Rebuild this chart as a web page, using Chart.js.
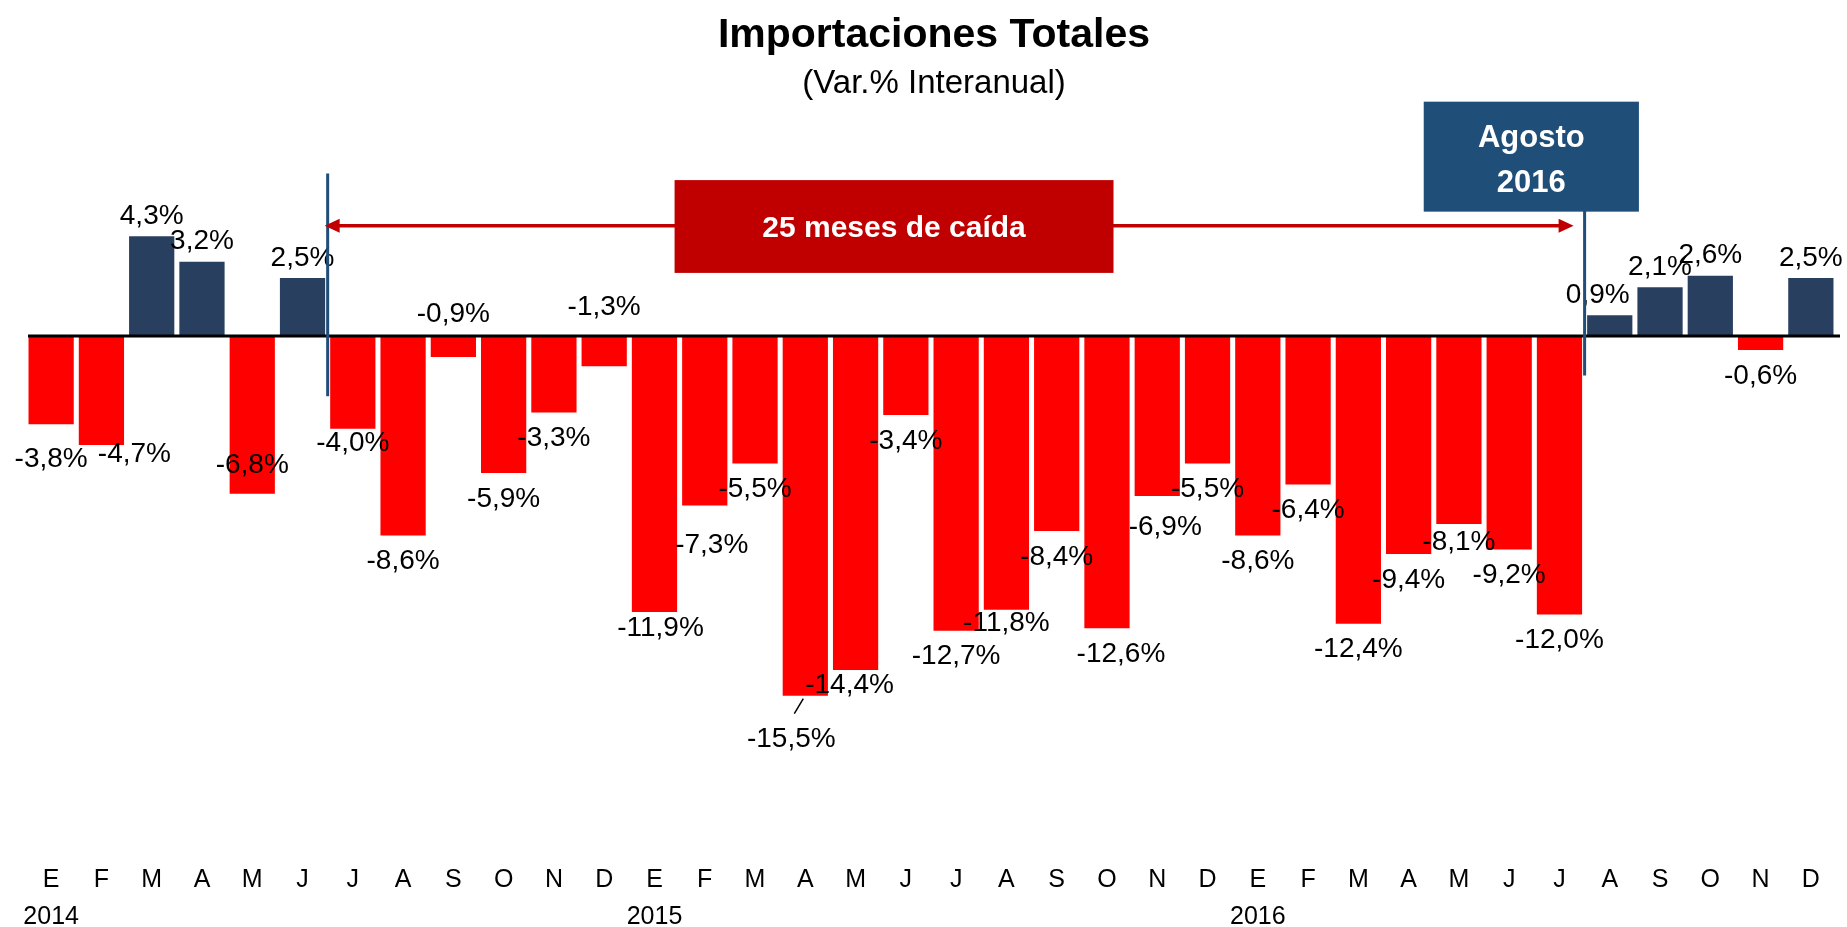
<!DOCTYPE html>
<html>
<head>
<meta charset="utf-8">
<title>Importaciones Totales</title>
<script src="https://cdn.jsdelivr.net/npm/chart.js@4/dist/chart.umd.min.js"></script>
<style>
  html, body { margin: 0; padding: 0; background: #fff; }
  #wrap { width: 1847px; height: 927px; }
</style>
</head>
<body>
<div id="wrap"><canvas id="importChart"></canvas></div>
<script>
// months E 2014 .. D 2016
const months = ['E','F','M','A','M','J','J','A','S','O','N','D',
                'E','F','M','A','M','J','J','A','S','O','N','D',
                'E','F','M','A','M','J','J','A','S','O','N','D'];
const years = ['2014','','','','','','','','','','','',
               '2015','','','','','','','','','','','',
               '2016','','','','','','','','','','',''];
const values = [-3.8, -4.7, 4.3, 3.2, -6.8, 2.5, -4.0, -8.6, -0.9, -5.9, -3.3, -1.3,
                -11.9, -7.3, -5.5, -15.5, -14.4, -3.4, -12.7, -11.8, -8.4, -12.6, -6.9, -5.5,
                -8.6, -6.4, -12.4, -9.4, -8.1, -9.2, -12.0, 0.9, 2.1, 2.6, -0.6, 2.5];

const RED = '#FF0000';
const NAVY = '#283F5F';
const DARK_RED = '#C00000';
const STEEL = '#1F4E79';

// hand moved labels, like in the original slide [dx, dy] px
const labelNudge = {
  0: [0, 9], 1: [33, -17], 4: [0, -54], 6: [0, -12], 8: [0, -69], 11: [0, -85],
  12: [6, -10], 13: [7, 14], 15: [-14, 18], 16: [-6, -11], 19: [0, -13],
  21: [14, 0], 22: [8, 5], 28: [0, -8], 31: [-12, 0]
};

function fmt(v) {
  return v.toFixed(1).replace('.', ',') + '%';
}

const annotations = {
  id: 'annotations',
  afterDraw(chart) {
    const ctx = chart.ctx;
    const x = chart.scales.x;
    const y = chart.scales.y;
    const area = chart.chartArea;
    const mid = (area.left + area.right) / 2 + 3;

    ctx.save();
    // titles
    ctx.fillStyle = '#000';
    ctx.textAlign = 'center';
    ctx.textBaseline = 'middle';
    ctx.font = 'bold 41px "Liberation Sans", Arial, sans-serif';
    ctx.fillText('Importaciones Totales', mid, 36);
    ctx.font = '33px "Liberation Sans", Arial, sans-serif';
    ctx.fillText('(Var.% Interanual)', mid, 84);

    // vertical markers
    ctx.strokeStyle = STEEL;
    ctx.lineWidth = 3;
    const x1 = x.getPixelForValue(5.5);
    const x2 = x.getPixelForValue(30.5);
    ctx.beginPath();
    ctx.moveTo(x1, y.getPixelForValue(7.0));
    ctx.lineTo(x1, y.getPixelForValue(-2.6));
    ctx.moveTo(x2, y.getPixelForValue(5.4));
    ctx.lineTo(x2, y.getPixelForValue(-1.7));
    ctx.stroke();

    // double arrow
    const ay = y.getPixelForValue(4.75);
    const left = x1 - 3;
    const right = x2 - 11;
    ctx.strokeStyle = DARK_RED;
    ctx.fillStyle = DARK_RED;
    ctx.lineWidth = 3.5;
    ctx.beginPath();
    ctx.moveTo(left + 12, ay);
    ctx.lineTo(right - 12, ay);
    ctx.stroke();
    ctx.beginPath();
    ctx.moveTo(left, ay);
    ctx.lineTo(left + 15, ay - 7);
    ctx.lineTo(left + 15, ay + 7);
    ctx.closePath();
    ctx.moveTo(right, ay);
    ctx.lineTo(right - 15, ay - 7);
    ctx.lineTo(right - 15, ay + 7);
    ctx.closePath();
    ctx.fill();

    // "25 meses" box
    const bx1 = x.getPixelForValue(12.4), bx2 = x.getPixelForValue(21.13);
    const by1 = y.getPixelForValue(6.72), by2 = y.getPixelForValue(2.72);
    ctx.fillStyle = DARK_RED;
    ctx.fillRect(bx1, by1, bx2 - bx1, by2 - by1);
    ctx.fillStyle = '#fff';
    ctx.font = 'bold 30px "Liberation Sans", Arial, sans-serif';
    ctx.fillText('25 meses de caída', (bx1 + bx2) / 2, (by1 + by2) / 2 + 2);

    // Agosto 2016 box
    const cx1 = x.getPixelForValue(27.3), cx2 = x.getPixelForValue(31.58);
    const cy1 = y.getPixelForValue(10.1), cy2 = y.getPixelForValue(5.36);
    ctx.fillStyle = STEEL;
    ctx.fillRect(cx1, cy1, cx2 - cx1, cy2 - cy1);
    ctx.fillStyle = '#fff';
    ctx.font = 'bold 31px "Liberation Sans", Arial, sans-serif';
    const cmid = (cx1 + cx2) / 2;
    ctx.fillText('Agosto', cmid, (cy1 + cy2) / 2 - 18);
    ctx.fillText('2016', cmid, (cy1 + cy2) / 2 + 27);
    ctx.restore();
  }
};

const barLabels = {
  id: 'barLabels',
  afterDatasetsDraw(chart) {
    const ctx = chart.ctx;
    const area = chart.chartArea;
    const zero = chart.scales.y.getPixelForValue(0);
    const meta = chart.getDatasetMeta(0);

    ctx.save();
    // zero line
    ctx.strokeStyle = '#000';
    ctx.lineWidth = 3;
    ctx.beginPath();
    ctx.moveTo(area.left + 2, zero);
    ctx.lineTo(area.right + 4, zero);
    ctx.stroke();

    ctx.fillStyle = '#000';
    ctx.font = '28px "Liberation Sans", Arial, sans-serif';
    ctx.textAlign = 'center';
    ctx.textBaseline = 'middle';
    meta.data.forEach((bar, i) => {
      const v = values[i];
      const n = labelNudge[i] || [0, 0];
      const ly = (v < 0 ? bar.y + 26 : bar.y - 20) + n[1];
      ctx.fillText(fmt(v), bar.x + n[0], ly);
    });

    // leader line for the deepest bar
    const deep = meta.data[15];
    ctx.strokeStyle = '#000';
    ctx.lineWidth = 1.5;
    ctx.beginPath();
    ctx.moveTo(deep.x - 2, deep.y + 3);
    ctx.lineTo(deep.x - 11, deep.y + 18);
    ctx.stroke();
    ctx.restore();
  }
};

new Chart(document.getElementById('importChart'), {
  type: 'bar',
  data: {
    labels: months,
    datasets: [{
      data: values,
      backgroundColor: values.map(v => v < 0 ? RED : NAVY),
      barPercentage: 0.9,
      categoryPercentage: 1.0
    }]
  },
  options: {
    responsive: true,
    maintainAspectRatio: false,
    animation: false,
    layout: { padding: { top: 104, left: 26, right: 11, bottom: -18 } },
    plugins: {
      legend: { display: false },
      tooltip: { enabled: false }
    },
    scales: {
      x: {
        grid: { display: false, drawTicks: false },
        border: { display: false },
        ticks: {
          color: '#000',
          padding: 10,
          maxRotation: 0,
          autoSkip: false,
          font: { family: '"Liberation Sans", Arial, sans-serif', size: 25, lineHeight: 1.46 },
          callback: (val, i) => [months[i], years[i]]
        }
      },
      y: {
        display: false,
        min: -22.24,
        max: 10
      }
    }
  },
  plugins: [barLabels, annotations]
});
</script>
</body>
</html>
